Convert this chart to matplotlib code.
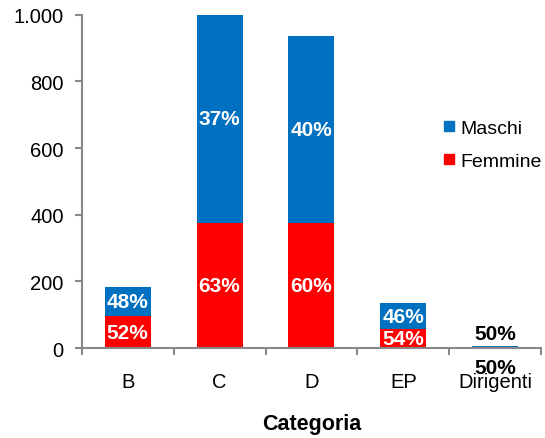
import matplotlib.pyplot as plt
from matplotlib.lines import Line2D
from matplotlib.ticker import FuncFormatter

plt.rcParams['font.family'] = ['Liberation Sans', 'DejaVu Sans']

categorie = ['B', 'C', 'D', 'EP', 'Dirigenti']
femmine = [96, 375, 375, 57, 3]
maschi = [87, 625, 562, 78, 3]
perc_femmine = ['52%', '63%', '60%', '54%', '50%']
perc_maschi = ['48%', '37%', '40%', '46%', '50%']

blu = '#0070C0'
rosso = '#FF0000'
grigio = '#888888'

fig = plt.figure(figsize=(5.45, 4.39), dpi=100)
ax = fig.add_axes([0.150, 0.205, 0.843, 0.759])

x = range(len(categorie))
ax.bar(x, femmine, width=0.5, color=rosso, clip_on=False)
ax.bar(x, maschi, width=0.5, bottom=femmine, color=blu, clip_on=False)

# etichette percentuali al centro dei segmenti
for i in x:
    if i < len(categorie) - 1:
        ax.text(i, femmine[i] / 2, perc_femmine[i], ha='center', va='center',
                color='white', fontsize=15, fontweight='bold')
        ax.text(i, femmine[i] + maschi[i] / 2, perc_maschi[i], ha='center', va='center',
                color='white', fontsize=15, fontweight='bold')
    else:
        tot = femmine[i] + maschi[i]
        ax.annotate(perc_maschi[i], (i, tot), xytext=(0, 2), textcoords='offset points',
                    ha='center', va='bottom', color='black', fontsize=15, fontweight='bold')
        ax.annotate(perc_femmine[i], (i, 0), xytext=(0, -7), textcoords='offset points',
                    ha='center', va='top', color='black', fontsize=15, fontweight='bold',
                    annotation_clip=False, zorder=5)

ax.set_xlim(-0.5, len(categorie) - 0.5)
ax.set_ylim(0, 1000)
ax.set_yticks([0, 200, 400, 600, 800, 1000])
ax.yaxis.set_major_formatter(FuncFormatter(lambda v, p: f'{int(v):,}'.replace(',', '.')))

ax.set_xticks([i + 0.5 for i in range(-1, len(categorie))], minor=False)
ax.set_xticklabels([])
ax.set_xticks(list(x), minor=True)
ax.set_xticklabels(categorie, minor=True)
ax.tick_params(axis='x', which='minor', length=0, pad=17, labelsize=14.5)
ax.tick_params(axis='x', which='major', length=5, color=grigio, width=1.5)
ax.tick_params(axis='y', length=5, color=grigio, width=1.5, labelsize=14.5, pad=8)

for s in ['top', 'right']:
    ax.spines[s].set_visible(False)
for s in ['left', 'bottom']:
    ax.spines[s].set_color(grigio)
    ax.spines[s].set_linewidth(1.5)

ax.set_xlabel('Categoria', fontsize=15.5, fontweight='bold', labelpad=16)

handles = [Line2D([], [], marker='s', linestyle='', color=blu, markersize=7),
           Line2D([], [], marker='s', linestyle='', color=rosso, markersize=7)]
fig.legend(handles, ['Maschi', 'Femmine'], loc='center left',
           bbox_to_anchor=(0.773, 0.668), frameon=False, fontsize=14,
           handletextpad=0.1, handlelength=1.0, labelspacing=0.8)

fig.savefig('out.png', dpi=100)
